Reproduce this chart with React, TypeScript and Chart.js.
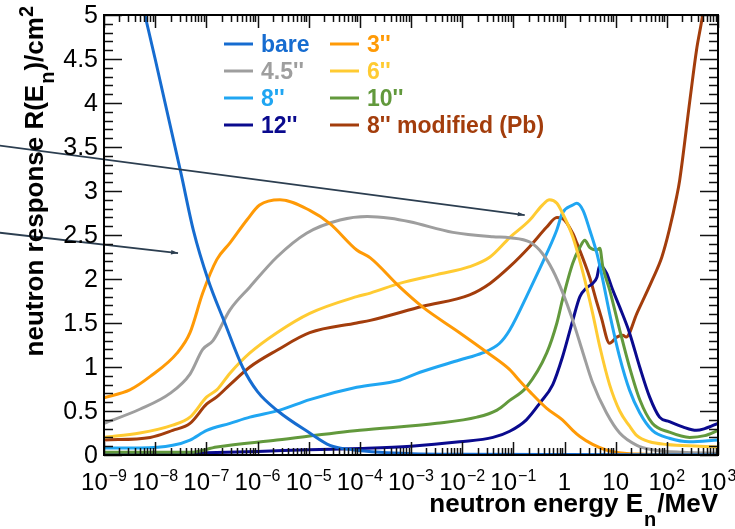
import React, { useEffect, useRef } from "react";
import { Chart, registerables } from "chart.js";

Chart.register(...registerables);

const FONT = '"Liberation Sans", Arial, Helvetica, sans-serif';

// ---- data (energy in MeV, response in cm^2) ----
const BARE_E = [1e-9, 2.5e-9, 6.3e-9, 1e-8, 3.2e-8, 5.6e-8, 1.07e-7, 2.3e-7, 5.1e-7, 1e-6, 2.5e-6, 1.05e-5, 2.6e-5, 7.2e-5, 2.5e-4, 1e-3, 1e-2, 1, 1e3];
const BARE_R = [7.1, 6.0, 5.0, 4.5, 3.2, 2.55, 2.0, 1.5, 1.0, 0.72, 0.5, 0.25, 0.11, 0.06, 0.03, 0.015, 0.008, 0.005, 0.004];

const IN3_E = [1e-9, 3.2e-9, 7.9e-9, 2.7e-8, 4.8e-8, 8.5e-8, 1.6e-7, 2.9e-7, 6.2e-7, 1.1e-6, 2.75e-6, 1.05e-5, 2.6e-5, 8.7e-5, 1.6e-4, 6e-4, 1.7e-3, 8.9e-3, 3e-2, 8.5e-2, 0.13, 0.21, 0.45, 0.91, 1.45, 2, 3.55, 6.3, 10.5, 30, 1e3];
const IN3_R = [0.65, 0.74, 0.89, 1.16, 1.39, 1.84, 2.22, 2.41, 2.67, 2.84, 2.9, 2.78, 2.63, 2.33, 2.24, 1.91, 1.68, 1.39, 1.17, 0.97, 0.85, 0.72, 0.53, 0.4, 0.28, 0.21, 0.12, 0.06, 0.03, 0.01, 0.0];

const IN45_E = [1e-9, 5e-9, 1.95e-8, 4.8e-8, 8.5e-8, 1.35e-7, 2.9e-7, 7.1e-7, 2.4e-6, 9.1e-6, 4.1e-5, 1.4e-4, 3.9e-4, 9.5e-4, 6.6e-3, 4e-2, 8.5e-2, 0.21, 0.37, 0.59, 0.93, 1.45, 2.3, 3.55, 6.6, 12, 26, 52, 200, 1e3];
const IN45_R = [0.36, 0.52, 0.7, 0.92, 1.2, 1.3, 1.65, 1.91, 2.25, 2.52, 2.67, 2.71, 2.69, 2.65, 2.53, 2.48, 2.47, 2.42, 2.29, 2.1, 1.84, 1.53, 1.16, 0.82, 0.48, 0.25, 0.11, 0.06, 0.03, 0.02];

const IN6_E = [1e-9, 5e-9, 2.2e-8, 4.8e-8, 1.02e-7, 1.6e-7, 2.9e-7, 7.1e-7, 2.4e-6, 1.05e-5, 8.7e-5, 1.6e-4, 6e-4, 3.2e-3, 1.4e-2, 3.5e-2, 8.5e-2, 0.21, 0.37, 0.51, 0.71, 0.91, 1.45, 2.3, 3.55, 4.9, 7.6, 12, 18.6, 26, 46, 100, 440, 1e3];
const IN6_R = [0.2, 0.25, 0.34, 0.43, 0.66, 0.74, 0.93, 1.16, 1.39, 1.61, 1.8, 1.84, 1.95, 2.05, 2.14, 2.25, 2.47, 2.67, 2.84, 2.9, 2.86, 2.75, 2.48, 2.07, 1.61, 1.23, 0.8, 0.5, 0.33, 0.22, 0.15, 0.12, 0.1, 0.09];

const IN8_E = [1e-9, 5e-9, 2.2e-8, 4.8e-8, 1.02e-7, 2.9e-7, 7.1e-7, 2.75e-6, 1.05e-5, 8.7e-5, 6e-4, 1.5e-3, 8.9e-3, 2.5e-2, 5.4e-2, 8.5e-2, 0.21, 0.45, 0.71, 0.91, 1.45, 1.74, 2.3, 3.1, 4.3, 5.6, 7.6, 12, 18.6, 29.5, 52, 112, 280, 1e3];
const IN8_R = [0.08, 0.08, 0.11, 0.17, 0.28, 0.36, 0.43, 0.51, 0.63, 0.77, 0.85, 0.94, 1.08, 1.16, 1.27, 1.42, 1.88, 2.29, 2.56, 2.75, 2.84, 2.86, 2.78, 2.56, 2.29, 1.99, 1.61, 1.11, 0.74, 0.48, 0.28, 0.19, 0.15, 0.17];

const IN10_E = [1e-9, 4.8e-8, 1.6e-7, 2.4e-6, 1e-4, 3.2e-3, 1.95e-2, 4.8e-2, 8.5e-2, 0.18, 0.45, 0.71, 0.91, 1.45, 2, 2.5, 3.1, 4.3, 4.9, 5.6, 7.6, 12, 18.6, 29.5, 52, 112, 280, 550, 1e3];
const IN10_R = [0.03, 0.03, 0.09, 0.17, 0.28, 0.36, 0.43, 0.51, 0.62, 0.77, 1.16, 1.5, 1.76, 2.18, 2.36, 2.44, 2.36, 2.33, 2.35, 2.14, 1.88, 1.42, 1.0, 0.63, 0.36, 0.26, 0.2, 0.22, 0.28];

const IN12_E = [1e-9, 1e-8, 1e-7, 1e-6, 1e-5, 1e-4, 1e-3, 8.9e-3, 4e-2, 8.5e-2, 0.18, 0.33, 0.59, 0.91, 1.45, 2, 2.7, 3.55, 4.3, 4.9, 6.6, 8.7, 12, 18.6, 29.5, 46, 72, 112, 204, 380, 550, 1e3];
const IN12_R = [0.01, 0.015, 0.025, 0.04, 0.06, 0.075, 0.1, 0.15, 0.2, 0.27, 0.4, 0.59, 0.8, 1.11, 1.53, 1.8, 1.9, 1.95, 2.02, 2.16, 2.07, 1.88, 1.68, 1.39, 1.0, 0.66, 0.43, 0.38, 0.32, 0.28, 0.3, 0.36];

const PB_E = [1e-9, 8e-9, 2.2e-8, 4.8e-8, 1.02e-7, 1.6e-7, 2.9e-7, 7.1e-7, 2.4e-6, 1.05e-5, 8.7e-5, 1.6e-4, 1.7e-3, 1.4e-2, 3.5e-2, 8.5e-2, 0.21, 0.45, 0.71, 0.91, 1.45, 1.74, 3.1, 4.3, 5.2, 7.6, 10.5, 13.8, 16, 26, 52, 80, 112, 155, 178, 282, 380, 500, 1e3];
const PB_R = [0.17, 0.2, 0.28, 0.36, 0.58, 0.66, 0.8, 1.0, 1.19, 1.39, 1.5, 1.53, 1.69, 1.82, 1.95, 2.14, 2.37, 2.59, 2.7, 2.69, 2.52, 2.41, 2.02, 1.73, 1.57, 1.27, 1.34, 1.36, 1.34, 1.61, 1.99, 2.25, 2.56, 2.93, 3.12, 4.03, 4.6, 5.0, 6.4];

const SERIES_LABELS = ["bare", "3''", "4.5''", "6''", "8''", "10''", "12''", "8'' modified (Pb)"];
const SERIES_COLORS = ["#166cd0", "#ff9a06", "#9e9e9e", "#ffcb32", "#20a6f2", "#62993c", "#0a0a8e", "#a33d0c"];
const SERIES_E = [BARE_E, IN3_E, IN45_E, IN6_E, IN8_E, IN10_E, IN12_E, PB_E];
const SERIES_R = [BARE_R, IN3_R, IN45_R, IN6_R, IN8_R, IN10_R, IN12_R, PB_R];

// legend: two columns of series indices
const LEGEND_COLUMNS = [[0, 2, 4, 6], [1, 3, 5, 7]];

// axis ticks
const X_TICK_VALUES = [1e-9, 1e-8, 1e-7, 1e-6, 1e-5, 1e-4, 1e-3, 1e-2, 1e-1, 1, 10, 100, 1000];
const X_TICK_BASES = ["10", "10", "10", "10", "10", "10", "10", "10", "10", "1", "10", "10", "10"];
const X_TICK_EXPS = ["\u22129", "\u22128", "\u22127", "\u22126", "\u22125", "\u22124", "\u22123", "\u22122", "\u22121", "", "", "2", "3"];
const Y_TICK_VALUES = [0, 0.5, 1, 1.5, 2, 2.5, 3, 3.5, 4, 4.5, 5];
const Y_TICK_LABELS = ["0", "0.5", "1", "1.5", "2", "2.5", "3", "3.5", "4", "4.5", "5"];
const Y_MINOR_STEP = 0.1;

// annotation arrows, in data coordinates [energy, response]
const ARROW_FROM = [[8e-12, 3.52], [8e-12, 2.53]];
const ARROW_TO = [[0.167, 2.727], [2.8e-8, 2.295]];

const X_TITLE = ["neutron energy E", "n", "/MeV"];
const Y_TITLE = ["neutron response R(E", "n", ")/cm", "2"];

const rootPlugin = {
  id: "rootStyle",
  afterDatasetsDraw(chart: any) {
    const { ctx, chartArea: a, scales } = chart;
    const xs = scales.x;
    const ys = scales.y;
    ctx.save();

    // annotation arrows
    ctx.strokeStyle = "#2c3e50";
    ctx.fillStyle = "#2c3e50";
    ctx.lineWidth = 1.8;
    for (let i = 0; i < ARROW_FROM.length; i++) {
      const x1 = xs.getPixelForValue(ARROW_FROM[i][0]);
      const y1 = ys.getPixelForValue(ARROW_FROM[i][1]);
      const x2 = xs.getPixelForValue(ARROW_TO[i][0]);
      const y2 = ys.getPixelForValue(ARROW_TO[i][1]);
      ctx.beginPath();
      ctx.moveTo(x1, y1);
      ctx.lineTo(x2, y2);
      ctx.stroke();
      const ang = Math.atan2(y2 - y1, x2 - x1);
      ctx.beginPath();
      ctx.moveTo(x2, y2);
      ctx.lineTo(x2 - 7 * Math.cos(ang) + 2.2 * Math.sin(ang), y2 - 7 * Math.sin(ang) - 2.2 * Math.cos(ang));
      ctx.lineTo(x2 - 7 * Math.cos(ang) - 2.2 * Math.sin(ang), y2 - 7 * Math.sin(ang) + 2.2 * Math.cos(ang));
      ctx.closePath();
      ctx.fill();
    }

    // ticks
    ctx.strokeStyle = "#111";
    ctx.lineWidth = 1.5;
    ctx.beginPath();
    const nMinor = Math.round(5 / Y_MINOR_STEP);
    for (let i = 0; i <= nMinor; i++) {
      const v = i * Y_MINOR_STEP;
      const py = Math.round(ys.getPixelForValue(v)) + 0.5;
      const len = i % 5 === 0 ? 18 : 9;
      ctx.moveTo(a.left, py);
      ctx.lineTo(a.left + len, py);
      ctx.moveTo(a.right, py);
      ctx.lineTo(a.right - len, py);
    }
    for (let d = 0; d < X_TICK_VALUES.length; d++) {
      const dec = X_TICK_VALUES[d];
      const px = Math.round(xs.getPixelForValue(dec)) + 0.5;
      ctx.moveTo(px, a.bottom);
      ctx.lineTo(px, a.bottom - 13);
      ctx.moveTo(px, a.top);
      ctx.lineTo(px, a.top + 13);
      if (d < X_TICK_VALUES.length - 1) {
        for (let m = 2; m <= 9; m++) {
          const mx = Math.round(xs.getPixelForValue(dec * m)) + 0.5;
          ctx.moveTo(mx, a.bottom);
          ctx.lineTo(mx, a.bottom - 7);
          ctx.moveTo(mx, a.top);
          ctx.lineTo(mx, a.top + 7);
        }
      }
    }
    ctx.stroke();

    // frame
    ctx.strokeStyle = "#000";
    ctx.lineWidth = 2;
    ctx.strokeRect(a.left, a.top, a.right - a.left, a.bottom - a.top);

    // y tick labels
    ctx.fillStyle = "#000";
    ctx.font = `25px ${FONT}`;
    ctx.textAlign = "right";
    ctx.textBaseline = "middle";
    for (let i = 0; i < Y_TICK_VALUES.length; i++) {
      ctx.fillText(Y_TICK_LABELS[i], a.left - 6, ys.getPixelForValue(Y_TICK_VALUES[i]) + 1);
    }

    // x tick labels
    ctx.textAlign = "left";
    ctx.textBaseline = "alphabetic";
    for (let i = 0; i < X_TICK_VALUES.length; i++) {
      const px = xs.getPixelForValue(X_TICK_VALUES[i]);
      ctx.font = `24px ${FONT}`;
      const wb = ctx.measureText(X_TICK_BASES[i]).width;
      ctx.font = `16px ${FONT}`;
      const we = X_TICK_EXPS[i] ? ctx.measureText(X_TICK_EXPS[i]).width + 1 : 0;
      const start = px - (wb + we) / 2;
      ctx.font = `24px ${FONT}`;
      ctx.fillText(X_TICK_BASES[i], start, 490);
      if (X_TICK_EXPS[i]) {
        ctx.font = `16px ${FONT}`;
        ctx.fillText(X_TICK_EXPS[i], start + wb + 1, 481);
      }
    }

    // x title
    const big = `bold 26px ${FONT}`;
    const small = `bold 20px ${FONT}`;
    ctx.font = big;
    const w0 = ctx.measureText(X_TITLE[0]).width;
    const w2 = ctx.measureText(X_TITLE[2]).width;
    ctx.font = small;
    const w1 = ctx.measureText(X_TITLE[1]).width + 2;
    const sx = a.right - (w0 + w1 + w2);
    ctx.font = big;
    ctx.fillText(X_TITLE[0], sx, 512);
    ctx.font = small;
    ctx.fillText(X_TITLE[1], sx + w0 + 1, 526);
    ctx.font = big;
    ctx.fillText(X_TITLE[2], sx + w0 + w1, 512);

    // y title (rotated)
    ctx.save();
    ctx.translate(43, 0);
    ctx.rotate(-Math.PI / 2);
    ctx.font = big;
    const t0 = ctx.measureText(Y_TITLE[0]).width;
    const t2 = ctx.measureText(Y_TITLE[2]).width;
    ctx.font = small;
    const t1 = ctx.measureText(Y_TITLE[1]).width + 2;
    const t3 = ctx.measureText(Y_TITLE[3]).width;
    let rx = -6 - (t0 + t1 + t2 + t3);
    ctx.font = big;
    ctx.fillText(Y_TITLE[0], rx, 0);
    rx += t0;
    ctx.font = small;
    ctx.fillText(Y_TITLE[1], rx + 1, 11);
    rx += t1;
    ctx.font = big;
    ctx.fillText(Y_TITLE[2], rx, 0);
    rx += t2;
    ctx.font = small;
    ctx.fillText(Y_TITLE[3], rx, -10);
    ctx.restore();

    // legend
    ctx.font = `bold 23px ${FONT}`;
    ctx.textAlign = "left";
    ctx.textBaseline = "alphabetic";
    ctx.lineWidth = 3;
    const colLineX = [224, 330];
    const rowY = [44, 71, 98, 125];
    for (let c = 0; c < LEGEND_COLUMNS.length; c++) {
      for (let r = 0; r < LEGEND_COLUMNS[c].length; r++) {
        const idx = LEGEND_COLUMNS[c][r];
        const y = rowY[r];
        ctx.strokeStyle = SERIES_COLORS[idx];
        ctx.fillStyle = SERIES_COLORS[idx];
        ctx.beginPath();
        ctx.moveTo(colLineX[c], y);
        ctx.lineTo(colLineX[c] + 29, y);
        ctx.stroke();
        ctx.fillText(SERIES_LABELS[idx], colLineX[c] + 37, y + 8);
      }
    }
    ctx.restore();
  },
};

export default function App() {
  const ref = useRef<HTMLCanvasElement>(null);
  useEffect(() => {
    const canvas = ref.current;
    if (!canvas) return;
    const datasets = SERIES_LABELS.map((label, i) => ({
      label,
      data: SERIES_E[i].map((x, j) => ({ x, y: SERIES_R[i][j] })),
      borderColor: SERIES_COLORS[i],
      backgroundColor: SERIES_COLORS[i],
      borderWidth: 3,
      pointRadius: 0,
      fill: false,
      cubicInterpolationMode: "monotone" as const,
    }));
    const chart = new Chart(canvas, {
      type: "line",
      data: { datasets },
      options: {
        animation: false,
        responsive: false,
        devicePixelRatio: 1,
        events: [],
        layout: { padding: { left: 104, top: 15, right: 17, bottom: 74 } },
        scales: {
          x: { type: "logarithmic", min: 1e-9, max: 1e3, display: false },
          y: { type: "linear", min: 0, max: 5, display: false },
        },
        plugins: { legend: { display: false }, tooltip: { enabled: false } },
      },
      plugins: [rootPlugin],
    });
    return () => chart.destroy();
  }, []);
  return (
    <div style={{ position: "absolute", left: 0, top: 0, width: 735, height: 529, background: "#fff" }}>
      <canvas ref={ref} width={735} height={529} style={{ display: "block" }} />
    </div>
  );
}
